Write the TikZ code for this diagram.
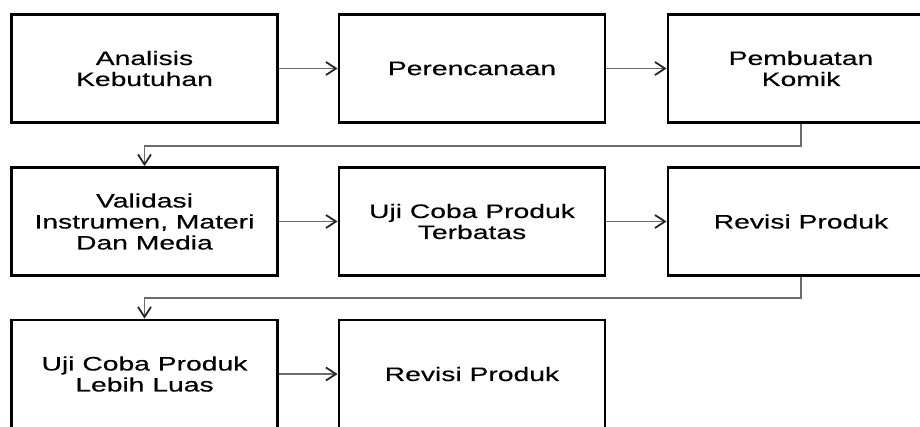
\documentclass[tikz,border=0pt]{standalone}
\usepackage{fontspec}
\setmainfont[FakeStretch=1.45,FakeBold=0.4]{Liberation Sans}
\usetikzlibrary{arrows.meta}
\begin{document}
\begin{tikzpicture}[x=1pt,y=-1pt,
  box/.style={draw=black, line width=2.8pt, minimum width=266pt, minimum height=108pt,
    align=center, inner sep=0pt, font=\fontsize{19.5}{21}\selectfont},
  conn/.style={draw=black!58, line width=1.8pt,
    -{Straight Barb[length=10pt,width=13pt,color=black!85,line width=1.8pt]}}]
\useasboundingbox (0,0) rectangle (920,426);
\clip (0,0) rectangle (920,426);
\node[box] (a1) at (144.5,68.5) {Analisis\\Kebutuhan};
\node[box] (a2) at (472,68.5) {Perencanaan};
\node[box] (a3) at (801,68.5) {Pembuatan\\Komik};
\node[box] (b1) at (144.5,221.5) {Validasi\\Instrumen, Materi\\Dan Media};
\node[box] (b2) at (472,221.5) {Uji Coba Produk\\Terbatas};
\node[box] (b3) at (801,221.5) {Revisi Produk};
\node[box] (c1) at (144.5,374) {Uji Coba Produk\\Lebih Luas};
\node[box] (c2) at (472,374) {Revisi Produk};
\draw[conn] (a1) -- (a2);
\draw[conn] (a2) -- (a3);
\draw[conn] (b1) -- (b2);
\draw[conn] (b2) -- (b3);
\draw[conn] (c1) -- (c2);
\draw[conn] (a3.south) -- ++(0,22) -| (b1.north);
\draw[conn] (b3.south) -- ++(0,21) -| (c1.north);
\end{tikzpicture}
\end{document}
